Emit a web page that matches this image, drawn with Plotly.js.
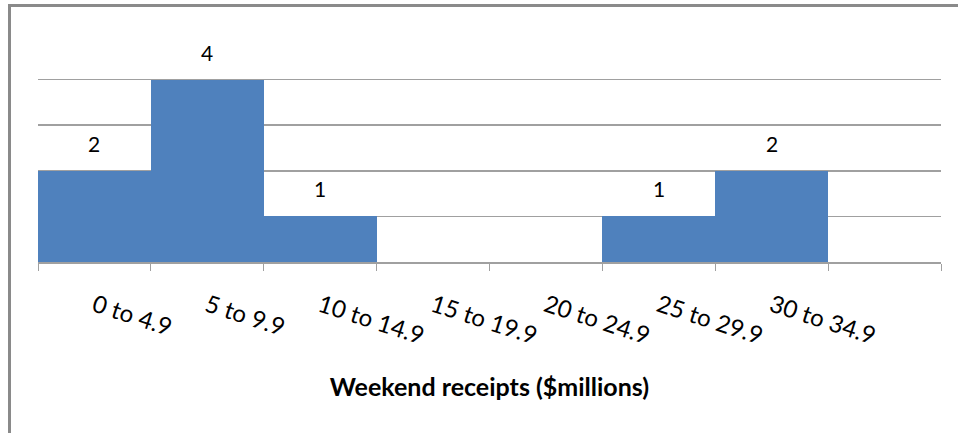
<!DOCTYPE html>
<html>
<head>
<meta charset="utf-8">
<script src="https://cdn.plot.ly/plotly-3.0.1.min.js"></script>
<style>
  html, body { margin: 0; padding: 0; background: #fff; }
  #wrap { position: relative; width: 958px; height: 433px; overflow: hidden; }
  #chart { width: 958px; height: 433px; }
  #frame {
    position: absolute; left: 8px; top: 4px; width: 960px; height: 440px;
    border-left: 3px solid #8a8a8a; border-top: 3px solid #8a8a8a;
    pointer-events: none; box-sizing: border-box;
  }
</style>
</head>
<body>
<div id="wrap">
  <div id="chart"></div>
  <div id="frame"></div>
</div>
<script>
// Weekend receipts histogram: number of films per $5M receipt band
const categories = ['0 to 4.9', '5 to 9.9', '10 to 14.9', '15 to 19.9',
                    '20 to 24.9', '25 to 29.9', '30 to 34.9', ''];
const counts = [2, 4, 1, 0, 0, 1, 2, 0];
const yTicks = [0, 1, 2, 3, 4, 5];

const font = 'Lato, "Open Sans", sans-serif';
const idx = categories.map((_, i) => i);
const boundaries = categories.map((_, i) => i - 0.5).concat([categories.length - 0.5]);

const trace = {
  type: 'bar',
  x: idx,
  y: counts,
  width: 1,
  marker: { color: '#4f81bd', line: { width: 0 } },
  hoverinfo: 'skip'
};

// Count labels above each non-empty bar
const annotations = idx
  .filter(i => counts[i] > 0)
  .map(i => ({
    x: i, y: counts[i], xref: 'x', yref: 'y',
    text: String(counts[i]), showarrow: false,
    yanchor: 'bottom', yshift: 13,
    font: { family: font, size: 21, color: '#000' }
  }));

const layout = {
  width: 958, height: 433,
  margin: { l: 38, r: 17, t: 34, b: 171 },
  paper_bgcolor: '#fff', plot_bgcolor: '#fff',
  showlegend: false,
  bargap: 0,
  xaxis: {
    range: [-0.5, categories.length - 0.5],
    tickmode: 'array', tickvals: idx, ticktext: categories,
    ticks: '', ticklen: 0,
    tickangle: 18,
    tickfont: { family: font, size: 24, color: '#000' },
    ticklabelstandoff: 19,
    minor: { tickmode: 'array', tickvals: boundaries, ticks: 'outside', ticklen: 7,
             tickcolor: '#a0a0a0', tickwidth: 1, showgrid: false },
    showline: true, linecolor: '#a0a0a0', linewidth: 1.5,
    showgrid: false, zeroline: false, fixedrange: true,
    automargin: false,
    title: { text: '<b>Weekend receipts ($millions)</b>', standoff: 30,
             font: { family: font, size: 25, color: '#000' } }
  },
  yaxis: {
    range: [0, 5], tickmode: 'array', tickvals: yTicks,
    showticklabels: false, ticks: '',
    showgrid: true, gridcolor: '#a0a0a0', gridwidth: 1.5,
    zeroline: false, showline: false, fixedrange: true, automargin: false
  },
  annotations: annotations
};

Plotly.newPlot('chart', [trace], layout, { displayModeBar: false, staticPlot: true });
</script>
</body>
</html>
